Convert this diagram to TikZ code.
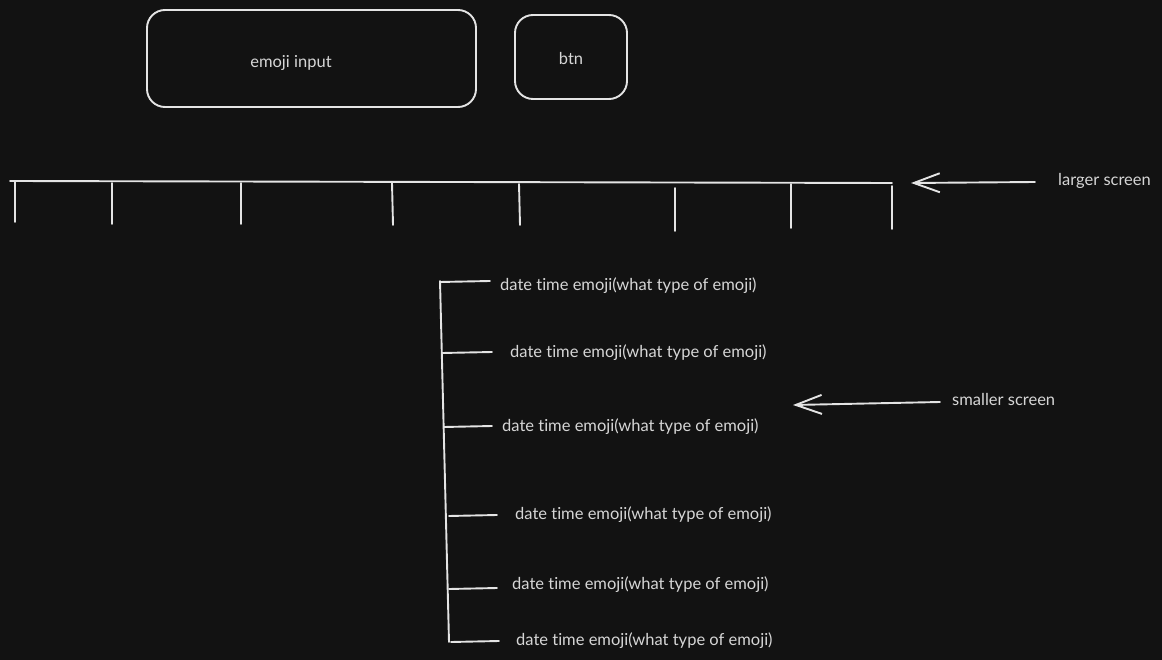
\documentclass[tikz,border=0pt]{standalone}
\usepackage{fontspec}
\setmainfont{Lato}[Ligatures={NoCommon}]
\usetikzlibrary{positioning}
\usetikzlibrary{arrows.meta}
\definecolor{bgdark}{HTML}{121212}
\definecolor{inkwhite}{HTML}{E4E4E4}
\definecolor{inkgray}{HTML}{D6D6D6}
\tikzset{
    box/.style = {rectangle, rounded corners=18pt, draw=inkwhite, line width=1.9pt, inner sep=0pt},
    lbl/.style = {text=inkgray, font=\fontsize{16.5}{19}\selectfont, inner sep=0pt},
    item/.style = {lbl, anchor=west, inner xsep=10pt},
    wire/.style = {draw=inkwhite, line width=1.9pt, line cap=round},
    edgea/.style = {wire, -{Straight Barb[length=26pt,width=19pt]}}, % pointer
}

\begin{document}
\begin{tikzpicture}[x=1pt,y=-1pt]
%
\fill[bgdark] (0,0) rectangle (1162,660);
\path[use as bounding box] (0,0) rectangle (1162,660);
%
\node[box,minimum width=329pt,minimum height=97pt] at (311.5,58.5) (inp) {};
\node[lbl] at (291,63) (inptxt) {emoji input};
\node[box,minimum width=112pt,minimum height=84pt] at (571,57) (btn) {};
\node[lbl] at (571,58) (btntxt) {btn};
%
% larger screen bar
\draw[wire] (10,181) -- (892,183);
\draw[wire] (15,182) -- (15,222);
\draw[wire] (112,183) -- (112,224);
\draw[wire] (241,183) -- (241,224);
\draw[wire] (392,183) -- (393,225);
\draw[wire] (519,184) -- (520,225);
\draw[wire] (675,188) -- (675,231);
\draw[wire] (791,184) -- (791,228);
\draw[wire] (892,186) -- (892,229);
%
\coordinate (lgtip) at (911,183);
\node[lbl,anchor=west] at (1058,181) (lgtxt) {larger screen};
\coordinate (lgtail) at (1035,182);
\draw[edgea] (lgtail) -- (lgtip);
%
% smaller screen list
\coordinate (top) at (440,281);
\coordinate (bot) at (449,642);
\draw[wire] (top) -- (bot);
\coordinate (s1) at (440,282);
\coordinate (s2) at (442,353);
\coordinate (s3) at (444,427);
\coordinate (s4) at (449,516);
\coordinate (s5) at (449,589);
\coordinate (s6) at (451,642);
\node[item] at (490,286) (r1) {date time emoji(what type of emoji)};
\node[item] at (500,353) (r2) {date time emoji(what type of emoji)};
\node[item] at (492,427) (r3) {date time emoji(what type of emoji)};
\node[item] at (505,515) (r4) {date time emoji(what type of emoji)};
\node[item] at (502,585) (r5) {date time emoji(what type of emoji)};
\node[item] at (506,641) (r6) {date time emoji(what type of emoji)};
\draw[wire] (s1) -- (490,281);
\draw[wire] (s2) -- (492,352);
\draw[wire] (s3) -- (492,426);
\draw[wire] (s4) -- (497,515);
\draw[wire] (s5) -- (497,588);
\draw[wire] (s6) -- (499,641);
%
\coordinate (smtip) at (793,405);
\coordinate (smtail) at (940,402);
\node[lbl,anchor=west] at (952,399) (smtxt) {smaller screen};
\draw[edgea] (smtail) -- (smtip);

\end{tikzpicture}
\end{document}
